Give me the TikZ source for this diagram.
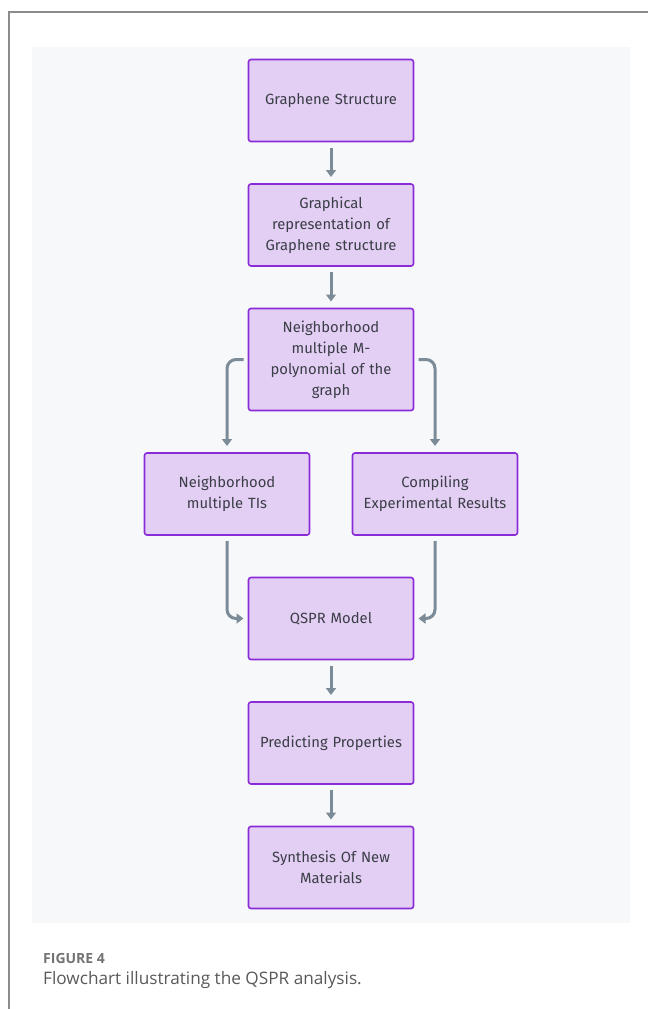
\documentclass[tikz,border=0pt]{standalone}
\usepackage{fontspec}
\setmainfont{Fira Sans}
\newfontfamily\capfont{Open Sans}
\usepackage{tikz}
\usetikzlibrary{arrows.meta,positioning}

\definecolor{boxfill}{HTML}{E4CFF4}
\definecolor{boxline}{HTML}{8A2BD8}
\definecolor{flowgray}{HTML}{7B8B97}
\definecolor{panelbg}{HTML}{F7F8FA}
\definecolor{boxtext}{HTML}{3A3E47}

\tikzset{
  stepbox/.style={draw=boxline, fill=boxfill, line width=1.6pt, rounded corners=2.5pt,
    outer sep=0pt, minimum width=165pt, minimum height=82pt, text width=156pt, align=center,
    text=boxtext, font=\fontsize{14.8}{21}\selectfont},
  flow/.style={draw=flowgray, line width=3pt, rounded corners=9pt,
    -{Triangle[width=10pt,length=7pt]}, shorten <=6pt, shorten >=7pt}
}

\begin{document}
\begin{tikzpicture}[node distance=42.5pt, x=1pt, y=-1pt]
    \useasboundingbox (0,0) rectangle (648,1009);
    % frame and panel
    \draw[gray!90, line width=1.5pt] (9,1009) -- (9,12) -- (648,12);
    \fill[panelbg] (32,47) rectangle (630,923);

    \node[stepbox] (graphene) at (331,100.5) {Graphene Structure};
    \node[stepbox, below=of graphene] (graphical) {Graphical\\ representation of\\ Graphene structure};
    \node[stepbox, below=of graphical, minimum height=102pt] (mpoly) {Neighborhood\\ multiple M-\\ polynomial of the\\ graph};
    \node[stepbox, below=of mpoly, xshift=-104pt] (indices) {Neighborhood\\ multiple TIs};
    \node[stepbox, below=of mpoly, xshift=104pt] (results) {Compiling\\ Experimental Results};
    \node[stepbox, below=of indices, xshift=104pt] (qspr) {QSPR Model};
    \node[stepbox, below=of qspr] (predict) {Predicting Properties};
    \node[stepbox, below=of predict] (synth) {Synthesis Of New\\ Materials};

    \draw[flow] (graphene) -- (graphical);
    \draw[flow] (graphical) -- (mpoly);
    \draw[flow, shorten <=5pt] (mpoly.west) -| (indices.north);
    \draw[flow, shorten <=5pt] (mpoly.east) -| (results.north);
    \draw[flow, shorten >=5pt] (indices.south) |- (qspr.west);
    \draw[flow, shorten >=5pt] (results.south) |- (qspr.east);
    \draw[flow] (qspr) -- (predict);
    \draw[flow] (predict) -- (synth);

    % caption
    \node[anchor=base west, inner sep=0pt, text=gray!90!black, font=\capfont\fontsize{14}{16}\selectfont\bfseries] (figno) at (43,963) {FIGURE 4};
    \node[anchor=base west, inner sep=0pt, text=black!65, font=\capfont\fontsize{17.2}{20}\selectfont] (caption) at (43,984) {Flowchart illustrating the QSPR analysis.};
\end{tikzpicture}
\end{document}
